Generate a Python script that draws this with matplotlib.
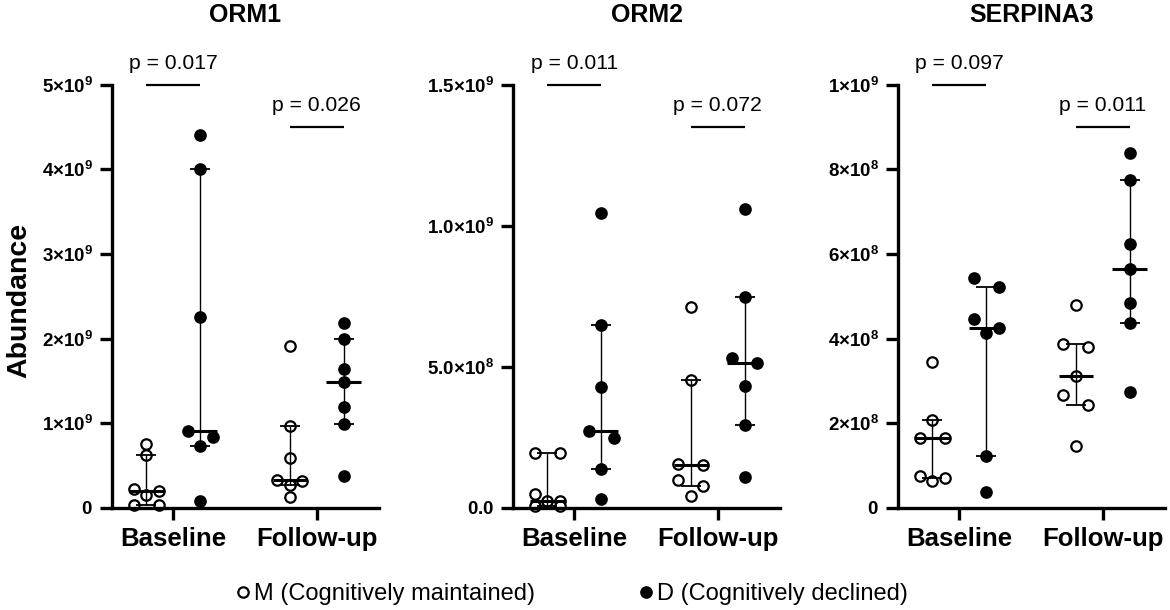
import numpy as np
import matplotlib
matplotlib.use('Agg')
import matplotlib.pyplot as plt
from matplotlib.lines import Line2D

plt.rcParams['font.family'] = ['Liberation Sans', 'DejaVu Sans']
plt.rcParams['mathtext.fontset'] = 'custom'
plt.rcParams['mathtext.bf'] = 'Liberation Sans:bold'
plt.rcParams['mathtext.rm'] = 'Liberation Sans'


# Data (abundance, in units of 1e9)
PROTEINS = ['ORM1', 'ORM2', 'SERPINA3']
TIMEPOINTS = ['Baseline', 'Follow-up']

ORM1_M_BASE = [0.754, 0.63, 0.23, 0.20, 0.155, 0.04, 0.04]
ORM1_D_BASE = [4.40, 4.00, 2.25, 0.91, 0.84, 0.73, 0.08]
ORM1_M_FOLLOW = [1.915, 0.964, 0.587, 0.335, 0.32, 0.27, 0.126]
ORM1_D_FOLLOW = [2.18, 1.99, 1.64, 1.49, 1.19, 0.99, 0.377]

ORM2_M_BASE = [0.195, 0.195, 0.05, 0.025, 0.025, 0.006, 0.006]
ORM2_D_BASE = [1.046, 0.647, 0.427, 0.274, 0.247, 0.138, 0.031]
ORM2_M_FOLLOW = [0.712, 0.452, 0.157, 0.151, 0.100, 0.079, 0.041]
ORM2_D_FOLLOW = [1.058, 0.749, 0.531, 0.512, 0.433, 0.295, 0.109]

SERP_M_BASE = [0.344, 0.207, 0.165, 0.165, 0.075, 0.071, 0.063]
SERP_D_BASE = [0.542, 0.522, 0.446, 0.425, 0.413, 0.123, 0.038]
SERP_M_FOLLOW = [0.480, 0.388, 0.380, 0.312, 0.266, 0.243, 0.147]
SERP_D_FOLLOW = [0.838, 0.775, 0.624, 0.564, 0.484, 0.436, 0.274]

M_DATA = [[ORM1_M_BASE, ORM1_M_FOLLOW], [ORM2_M_BASE, ORM2_M_FOLLOW], [SERP_M_BASE, SERP_M_FOLLOW]]
D_DATA = [[ORM1_D_BASE, ORM1_D_FOLLOW], [ORM2_D_BASE, ORM2_D_FOLLOW], [SERP_D_BASE, SERP_D_FOLLOW]]

P_BASE = ['0.017', '0.011', '0.097']
P_FOLLOW = ['0.026', '0.072', '0.011']

Y_MAX = [5.0, 1.5, 1.0]
Y_TICKS = [
    [0, 1, 2, 3, 4, 5],
    [0, 0.5, 1.0, 1.5],
    [0, 0.2, 0.4, 0.6, 0.8, 1.0],
]
Y_TICKLABELS = [
    ['0', '1×10^{9}', '2×10^{9}', '3×10^{9}', '4×10^{9}', '5×10^{9}'],
    ['0.0', '5.0×10^{8}', '1.0×10^{9}', '1.5×10^{9}'],
    ['0', '2×10^{8}', '4×10^{8}', '6×10^{8}', '8×10^{8}', '1×10^{9}'],
]

LEGEND_LABELS = ['M (Cognitively maintained)', 'D (Cognitively declined)']


# Layout / style
FIG_W, FIG_H = 11.7, 6.1
AX_LEFTS = [111.7, 512.7, 897.7]   # px
AX_W = 267.6
AX_TOP, AX_BOTTOM = 84.5, 508.0
XLIM = (-0.43, 1.437)
GROUP_OFF = 0.188
SLOT = 0.086
ROW_PX = 10.0
LW_AXIS = 2.4


def swarm(vals, px_per_unit):
    # points that fall in the same row get spread sideways
    vals = np.asarray(vals, dtype=float)
    order = np.argsort(-vals, kind='stable')
    rows = []
    for i in order:
        if rows and (vals[rows[-1][0]] - vals[i]) * px_per_unit < ROW_PX:
            rows[-1].append(i)
        else:
            rows.append([i])
    offs = np.zeros(len(vals))
    for row in rows:
        if len(row) == 1:
            pattern = [0]
        elif len(row) == 2:
            pattern = [-1, 1]
        else:
            pattern = [-1, 1, 0, -2, 2, -3, 3][:len(row)]
        for i, s in zip(row, pattern):
            offs[i] = s * SLOT
    return offs


def draw_group(ax, x, vals, filled, px_per_unit):
    vals = np.asarray(vals)
    offs = swarm(vals, px_per_unit)
    ax.plot(x + offs, vals, ls='none', marker='o', ms=7.5, mew=1.6,
            mec='black', mfc='black' if filled else 'white',
            clip_on=False, zorder=2)
    q1, med, q3 = np.percentile(vals, [25, 50, 75], method='weibull')
    ax.vlines(x, q1, q3, color='black', lw=1.0, zorder=3)
    ax.hlines([q1, q3], x - 0.07, x + 0.07, color='black', lw=1.3, zorder=3)
    ax.hlines(med, x - 0.12, x + 0.12, color='black', lw=2.2, zorder=3)


def main():
    fig = plt.figure(figsize=(FIG_W, FIG_H), dpi=100)
    px_w, px_h = FIG_W * 100, FIG_H * 100

    for k, name in enumerate(PROTEINS):
        ax = fig.add_axes([AX_LEFTS[k] / px_w, 1 - AX_BOTTOM / px_h,
                           AX_W / px_w, (AX_BOTTOM - AX_TOP) / px_h])
        ymax = Y_MAX[k]
        ax.set_xlim(*XLIM)
        ax.set_ylim(0, ymax)
        px_per_unit = (AX_BOTTOM - AX_TOP) / ymax

        for t in range(len(TIMEPOINTS)):
            draw_group(ax, t - GROUP_OFF, M_DATA[k][t], False, px_per_unit)
            draw_group(ax, t + GROUP_OFF, D_DATA[k][t], True, px_per_unit)

        # p-value brackets
        for t, (p, frac) in enumerate(zip([P_BASE[k], P_FOLLOW[k]], [1.0, 0.9])):
            yb = frac * ymax
            ax.plot([t - GROUP_OFF, t + GROUP_OFF], [yb, yb], color='black',
                    lw=1.6, clip_on=False, solid_capstyle='butt')
            ax.text(t, yb + 0.05 * ymax, 'p = ' + p, ha='center', va='center',
                    fontsize=15.2, clip_on=False)

        for side in ['top', 'right']:
            ax.spines[side].set_visible(False)
        for side in ['left', 'bottom']:
            ax.spines[side].set_linewidth(LW_AXIS)

        ax.set_xticks(range(len(TIMEPOINTS)))
        ax.set_xticklabels(TIMEPOINTS, fontsize=18.5, fontweight='bold')
        ax.set_yticks(Y_TICKS[k])
        ax.set_yticklabels([r'$\mathbf{' + s + '}$' for s in Y_TICKLABELS[k]],
                           fontsize=13.5)
        ax.tick_params(axis='both', length=8.5, width=LW_AXIS)
        ax.tick_params(axis='x', pad=5)
        ax.tick_params(axis='y', pad=5)

        xc = (AX_LEFTS[k] + AX_W / 2) / px_w
        fig.text(xc, 1 - 15 / px_h, name, ha='center', va='center',
                 fontsize=18, fontweight='bold')

    fig.text(19 / px_w, 1 - 300 / px_h, 'Abundance', rotation=90,
             ha='center', va='center', fontsize=20.5, fontweight='bold')

    handles = [
        Line2D([], [], ls='none', marker='o', ms=7.5, mew=1.6, mec='black', mfc='white'),
        Line2D([], [], ls='none', marker='o', ms=7.5, mew=1.6, mec='black', mfc='black'),
    ]
    fig.legend(handles, LEGEND_LABELS, ncol=2, loc='center',
               bbox_to_anchor=(572 / px_w, 1 - 594 / px_h), frameon=False,
               fontsize=17, handlelength=0.6, handletextpad=0.15,
               columnspacing=4.4, borderpad=0, borderaxespad=0)

    fig.savefig('out.png', dpi=100)


if __name__ == '__main__':
    main()
